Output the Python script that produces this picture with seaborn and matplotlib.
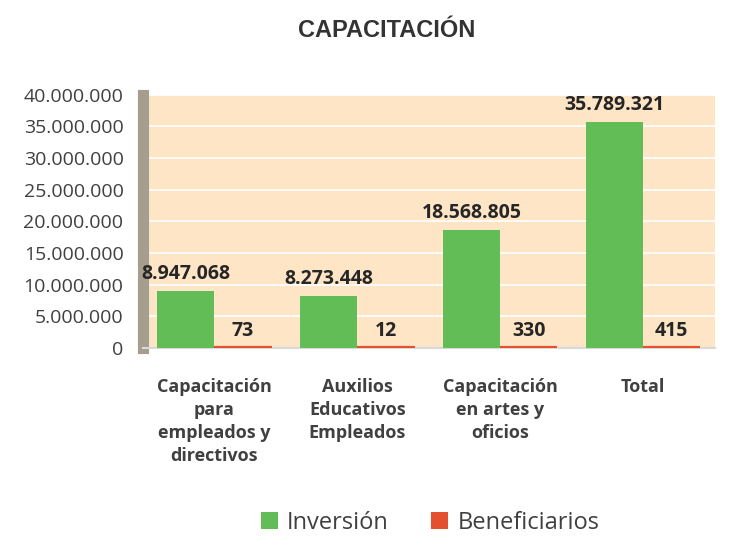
import matplotlib
matplotlib.use("Agg")
import matplotlib.pyplot as plt
import seaborn as sns
import pandas as pd
from matplotlib.ticker import FuncFormatter

categories = ["Capacitación\npara\nempleados y\ndirectivos",
              "Auxilios\nEducativos\nEmpleados",
              "Capacitación\nen artes y\noficios",
              "Total"]
series = ["Inversión", "Beneficiarios"]
inversion = [8947068, 8273448, 18568805, 35789321]
beneficiarios = [73, 12, 330, 415]
yticks = [0, 5000000, 10000000, 15000000, 20000000, 25000000, 30000000, 35000000, 40000000]
title = "CAPACITACIÓN"

colors = {"Inversión": "#62BD56", "Beneficiarios": "#E4512F"}

df = pd.DataFrame({
    "cat": categories * 2,
    "serie": [series[0]] * 4 + [series[1]] * 4,
    "valor": inversion + beneficiarios,
})

sns.set_theme(style="white")
plt.rcParams["font.family"] = ["Open Sans", "DejaVu Sans"]

fig = plt.figure(figsize=(7.33, 5.36), dpi=100)
ax = fig.add_axes([0.195, 0.351, 0.78, 0.472])
ax.set_facecolor("#FDE5C6")

sns.barplot(data=df, x="cat", y="valor", hue="serie", palette=colors,
            width=0.8, ax=ax, saturation=1, edgecolor="none", zorder=3)

# make the (near-zero) Beneficiarios bars visible as thin tiles at the base
for patch in ax.containers[1]:
    patch.set_edgecolor(colors["Beneficiarios"])
    patch.set_linewidth(3)

ax.set_ylim(0, 40000000)
ax.set_yticks(yticks)
fmt = lambda v: f"{int(v):,}".replace(",", ".")
ax.yaxis.set_major_formatter(FuncFormatter(lambda v, p: fmt(v)))
ax.grid(axis="y", color="white", linewidth=1.2, zorder=0)
ax.set_axisbelow(True)
for s in ["top", "right"]:
    ax.spines[s].set_visible(False)
ax.spines["left"].set_color("#A59D8E")
ax.spines["left"].set_linewidth(8)
ax.spines["bottom"].set_color("#D9D9D9")
ax.spines["bottom"].set_linewidth(1.5)
ax.tick_params(axis="y", labelsize=14, colors="#404040", length=0, pad=14)
ax.tick_params(axis="x", labelsize=13, colors="#404040", length=0, pad=22)
for t in ax.get_xticklabels():
    t.set_fontweight("bold")
    t.set_linespacing(1.35)
ax.set_xlabel("")
ax.set_ylabel("")

for cont, vals in zip(ax.containers, [inversion, beneficiarios]):
    labels = [fmt(v) for v in vals]
    ax.bar_label(cont, labels=labels, padding=5, fontsize=14,
                 fontweight="bold", color="#262626")

fig.suptitle(title, x=0.528, y=0.965, fontsize=17, fontweight="bold",
             color="#333333", family="Liberation Sans")

h, l = ax.get_legend_handles_labels()
ax.legend_.remove()
fig.legend(h, l, loc="center", bbox_to_anchor=(0.587, 0.025), ncol=2,
           frameon=False, fontsize=17, handlelength=0.7, handleheight=0.7,
           columnspacing=1.8, handletextpad=0.4, labelcolor="#404040")

fig.savefig("out.png", dpi=100)
